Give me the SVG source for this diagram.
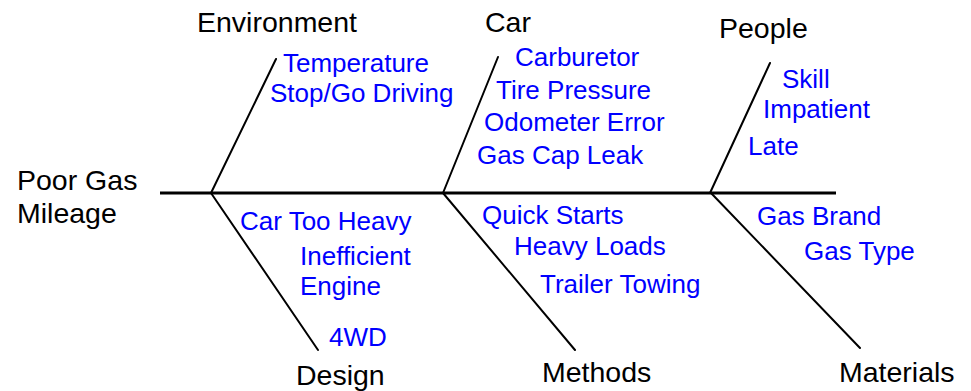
<svg xmlns="http://www.w3.org/2000/svg" width="971" height="391" viewBox="0 0 971 391">
  <style>
    .bone { stroke: #000; stroke-width: 2; fill: none; stroke-linecap: round; }
    .spine { stroke: #000; stroke-width: 3; fill: none; }
    .cat { font-family: "Liberation Sans", Arial, sans-serif; font-size: 28.5px; fill: #000; }
    .cause { font-family: "Liberation Sans", Arial, sans-serif; font-size: 26px; fill: #0000ff; }
  </style>
  <rect width="971" height="391" fill="#fff"/>

  <!-- spine and category bones -->
  <g id="connectors">
    <line class="spine" x1="160" y1="193" x2="836" y2="193"/>
    <line class="bone" x1="211" y1="193" x2="276" y2="59"/>
    <line class="bone" x1="443" y1="193" x2="498" y2="57"/>
    <line class="bone" x1="710" y1="193" x2="770" y2="63"/>
    <line class="bone" x1="211" y1="193" x2="318" y2="350"/>
    <line class="bone" x1="443" y1="193" x2="575" y2="350"/>
    <line class="bone" x1="711" y1="193" x2="860" y2="348"/>
  </g>

  <!-- effect -->
  <g id="effect">
    <text class="cat" x="17" y="190">Poor Gas</text>
    <text class="cat" x="17" y="223">Mileage</text>
  </g>

  <g id="environment">
    <text class="cat" x="197" y="32">Environment</text>
    <text class="cause" x="283" y="72">Temperature</text>
    <text class="cause" x="270" y="102">Stop/Go Driving</text>
  </g>

  <g id="car">
    <text class="cat" x="485" y="32">Car</text>
    <text class="cause" x="515" y="66">Carburetor</text>
    <text class="cause" x="496" y="99">Tire Pressure</text>
    <text class="cause" x="484" y="131">Odometer Error</text>
    <text class="cause" x="477" y="164">Gas Cap Leak</text>
  </g>

  <g id="people">
    <text class="cat" x="719" y="38">People</text>
    <text class="cause" x="782" y="88">Skill</text>
    <text class="cause" x="763" y="118">Impatient</text>
    <text class="cause" x="748" y="155">Late</text>
  </g>

  <g id="design">
    <text class="cause" x="240" y="230">Car Too Heavy</text>
    <text class="cause" x="300" y="265">Inefficient</text>
    <text class="cause" x="300" y="295">Engine</text>
    <text class="cause" x="329" y="346">4WD</text>
    <text class="cat" x="296" y="385">Design</text>
  </g>

  <g id="methods">
    <text class="cause" x="482" y="224">Quick Starts</text>
    <text class="cause" x="514" y="255">Heavy Loads</text>
    <text class="cause" x="540" y="293">Trailer Towing</text>
    <text class="cat" x="542" y="382">Methods</text>
  </g>

  <g id="materials">
    <text class="cause" x="757" y="225">Gas Brand</text>
    <text class="cause" x="804" y="260">Gas Type</text>
    <text class="cat" x="839" y="382">Materials</text>
  </g>
</svg>
